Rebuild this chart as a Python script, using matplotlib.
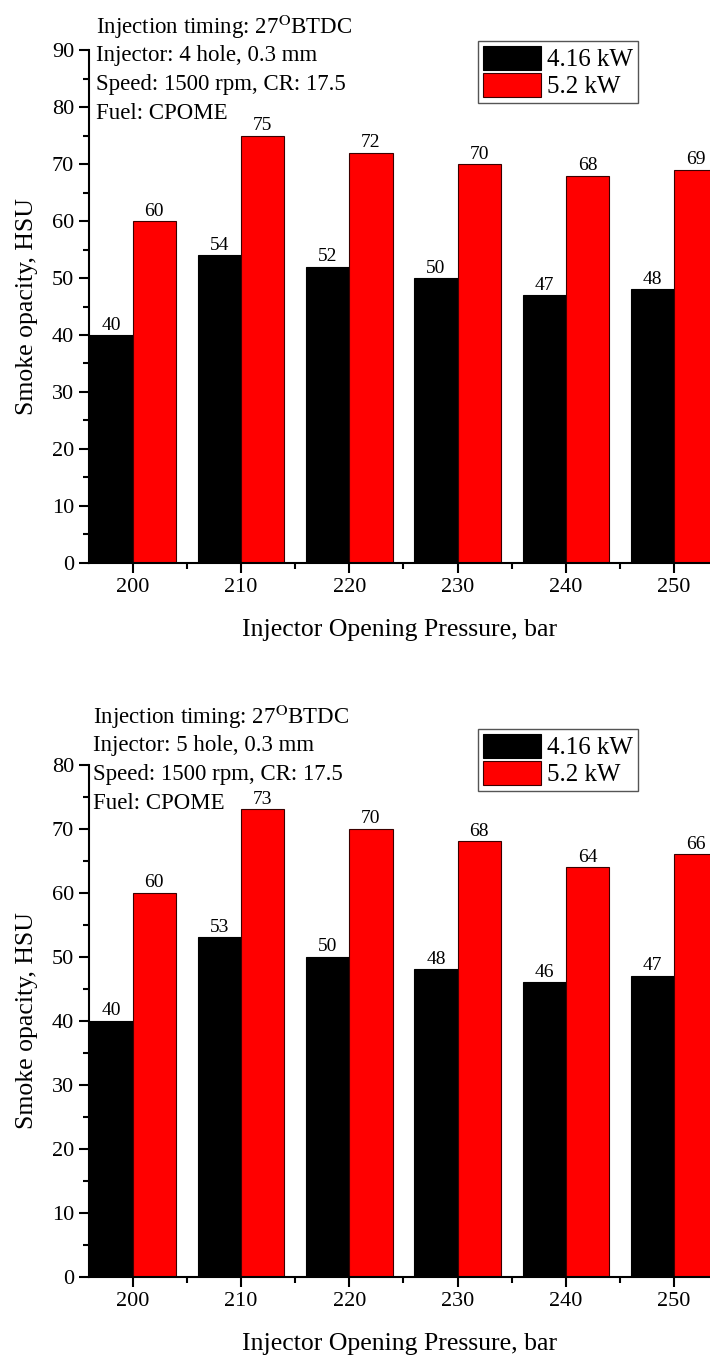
import matplotlib.pyplot as plt
from matplotlib.ticker import MultipleLocator

plt.rcParams['font.family'] = ['Liberation Serif', 'DejaVu Serif']
plt.rcParams['mathtext.fontset'] = 'stix'

# -----------------------------
# Data
# -----------------------------

pressure = [200, 210, 220, 230, 240, 250]
load_labels = ["4.16 kW", "5.2 kW"]

smoke_4hole_low = [40, 54, 52, 50, 47, 48]
smoke_4hole_high = [60, 75, 72, 70, 68, 69]

smoke_5hole_low = [40, 53, 50, 48, 46, 47]
smoke_5hole_high = [60, 73, 70, 68, 64, 66]

notes_4hole = [
    r"Injection timing: 27$^{\mathrm{O}}$BTDC",
    "Injector: 4 hole, 0.3 mm",
    "Speed: 1500 rpm, CR: 17.5",
    "Fuel: CPOME",
]
notes_5hole = [
    r"Injection timing: 27$^{\mathrm{O}}$BTDC",
    "Injector: 5 hole, 0.3 mm",
    "Speed: 1500 rpm, CR: 17.5",
    "Fuel: CPOME",
]

W, H = 710, 1358
fig = plt.figure(figsize=(W / 100, H / 100), dpi=100)


def draw_panel(rect, low, high, ymax, notes, note_x, note_y0, legend_top):
    ax = fig.add_axes(rect)
    b1 = ax.bar(pressure, low, width=-4, align="edge", color="black",
                edgecolor="black", linewidth=0.8, label=load_labels[0])
    b2 = ax.bar(pressure, high, width=4, align="edge", color="#ff0000",
                edgecolor="#3a0000", linewidth=0.8, label=load_labels[1])
    ax.bar_label(b1, padding=1, fontsize=14)
    ax.bar_label(b2, padding=1, fontsize=14)

    ax.set_xlim(196, 253.31)
    ax.set_ylim(0, ymax)
    ax.set_xticks(pressure)
    ax.xaxis.set_minor_locator(MultipleLocator(5))
    ax.yaxis.set_major_locator(MultipleLocator(10))
    ax.yaxis.set_minor_locator(MultipleLocator(5))

    ax.spines["top"].set_visible(False)
    ax.spines["right"].set_visible(False)
    ax.spines["left"].set_linewidth(1.5)
    ax.spines["bottom"].set_linewidth(1.5)

    ax.tick_params(which="major", direction="out", length=7, width=1.5,
                   labelsize=16, pad=4)
    ax.tick_params(which="minor", direction="out", length=4, width=1.5)

    ax.set_xlabel("Injector Opening Pressure, bar", fontsize=18.5, labelpad=16)
    ax.set_ylabel("Smoke opacity, HSU", fontsize=18.5, labelpad=10)

    for i, t in enumerate(notes):
        fig.text(note_x / W, 1 - (note_y0 + i * 28.7) / H, t,
                 fontsize=16.5, va="center", ha="left")

    leg = ax.legend(loc="upper left",
                    bbox_to_anchor=(478 / W, 1 - legend_top / H),
                    bbox_transform=fig.transFigure, borderaxespad=0,
                    fontsize=18, handlelength=2.3, handleheight=1.1,
                    handletextpad=0.25, labelspacing=0.05, borderpad=0.2,
                    fancybox=False, framealpha=1)
    leg.get_frame().set_edgecolor("#555555")
    leg.get_frame().set_linewidth(1.0)
    return ax


draw_panel([89.3 / W, 1 - 562.7 / H, 1 - 89.3 / W, (562.7 - 50.3) / H],
           smoke_4hole_low, smoke_4hole_high, 90,
           notes_4hole, 96, 27, 41)

draw_panel([89.3 / W, 1 - 1276.7 / H, 1 - 89.3 / W, (1276.7 - 764.5) / H],
           smoke_5hole_low, smoke_5hole_high, 80,
           notes_5hole, 93, 717, 729)

fig.savefig("out.png", dpi=100)
